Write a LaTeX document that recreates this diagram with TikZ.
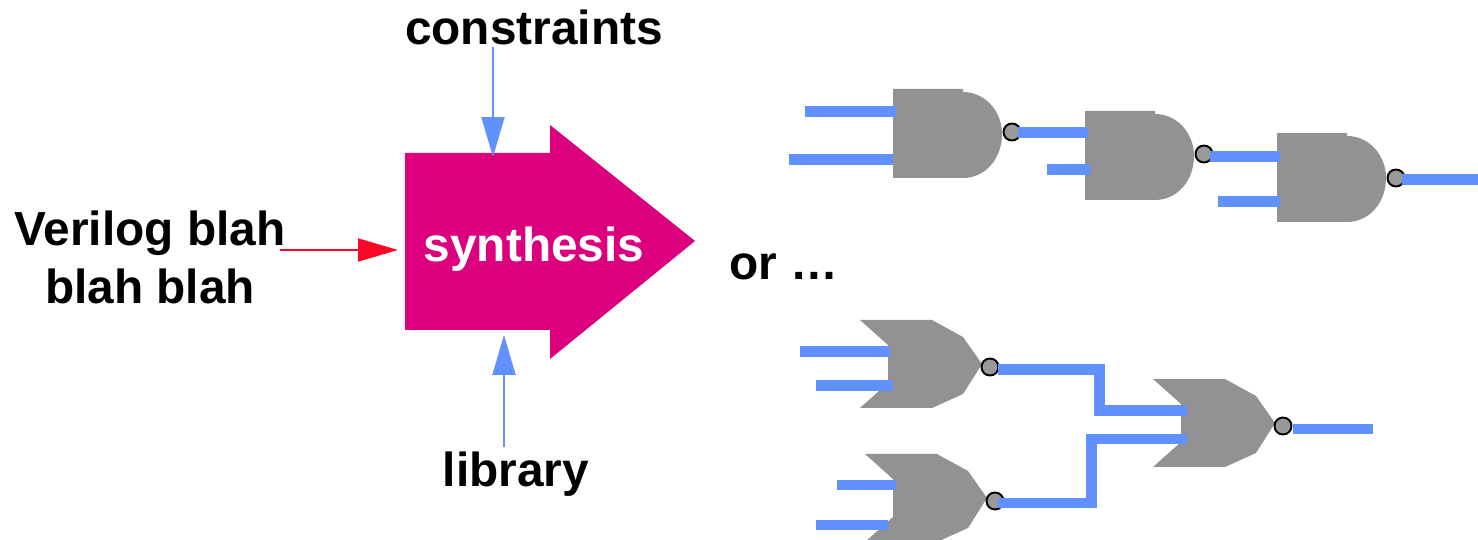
\documentclass[tikz,border=0pt]{standalone}
\usepackage{fontspec}
\setmainfont{Liberation Sans}
\usetikzlibrary{arrows.meta}
\definecolor{wireblue}{RGB}{97,144,255}
\definecolor{gategray}{RGB}{146,146,146}
\definecolor{bubblegray}{RGB}{153,153,153}
\definecolor{synthpink}{RGB}{220,0,127}
\definecolor{inred}{RGB}{255,8,40}
\tikzset{
  label/.style={font=\fontsize{27.2}{33}\selectfont\bfseries,align=center,inner sep=0pt},
  wire/.style={draw=wireblue,line width=0.22cm,line join=miter},
  feed/.style={line width=1.1pt,-{Triangle[length=0.8cm,width=0.46cm]}}
}
\begin{document}
\begin{tikzpicture}[x=0.02cm,y=-0.02cm]
\useasboundingbox (0,0) rectangle (1478,540);

% velika puscica
\fill[synthpink] (405,153)--(550,153)--(550,125)--(695,241)--(550,359)--(550,330)--(405,330)--cycle;

\node[label] (constraints) at (534,27){constraints};
\node[label] (verilog) at (150,257){Verilog blah\\blah blah};
\node[label] (library) at (516,474){library};
\node[label,text=white] (synthesis) at (534,249){synthesis};
\node[label] (orword) at (784,267){or \dots};

\coordinate (consout) at (493,47);
\coordinate (consin) at (493,157);
\coordinate (libout) at (504,447);
\coordinate (libin) at (504,335);
\coordinate (verout) at (280,250);
\coordinate (verin) at (398,250);

\draw[feed,wireblue] (consout)--(consin);
\draw[feed,wireblue] (libout)--(libin);
\draw[feed,inred] (verout)--(verin);

% vrata
\foreach \x/\y in {893/89,1085/111,1277/133}
\fill[gategray] (\x,\y)--++(70,0)--++(0,3)
  .. controls +(22,0) and +(0,-23) .. ++(39,42)
  .. controls +(0,25) and +(22,0) .. ++(-39,44)
  --++(-70,0)--cycle;

\foreach \x/\y in {860/320,865/454,1153/379}
\fill[gategray] (\x,\y)--++(72,0)--++(31,17)--++(19,27)--++(-19,30)--++(-31,14)--++(-72,0)
  --++(28,-25)--++(0,-38)--cycle;

% izhodi
\coordinate (a1) at (1012,132);
\coordinate (a2) at (1204,154);
\coordinate (a3) at (1396,178);
\coordinate (o1) at (990,367);
\coordinate (o2) at (995,501);
\coordinate (o3) at (1283,426);

\foreach \point in {a1,a2,a3,o1,o2,o3}
\draw[fill=bubblegray,line width=1.1pt] (\point) circle (0.17cm);

% pomozna vozlisca
\coordinate (a1u) at (805,112);
\coordinate (a1ui) at (896,112);
\coordinate (a1d) at (789,160);
\coordinate (a1di) at (893,160);
\coordinate (a1s) at (1018,133);
\coordinate (a2u) at (1088,133);
\coordinate (a2d) at (1047,170);
\coordinate (a2di) at (1090,170);
\coordinate (a2s) at (1210,157);
\coordinate (a3u) at (1280,157);
\coordinate (a3d) at (1218,202);
\coordinate (a3di) at (1280,202);
\coordinate (a3s) at (1402,180);
\coordinate (a3e) at (1478,180);

\coordinate (o1u) at (800,352);
\coordinate (o1ui) at (890,352);
\coordinate (o1d) at (816,386);
\coordinate (o1di) at (893,386);
\coordinate (o2u) at (837,485);
\coordinate (o2ui) at (896,485);
\coordinate (o2d) at (816,525);
\coordinate (o2di) at (888,525);
\coordinate (o1s) at (998,370);
\coordinate (o1k) at (1099,370);
\coordinate (o1m) at (1099,411);
\coordinate (o3u) at (1187,411);
\coordinate (o2s) at (998,503);
\coordinate (o2k) at (1091,503);
\coordinate (o2m) at (1091,439);
\coordinate (o3d) at (1187,439);
\coordinate (o3s) at (1293,429);
\coordinate (o3e) at (1373,429);

\draw[wire] (a1u)--(a1ui);
\draw[wire] (a1d)--(a1di);
\draw[wire] (a1s)--(a2u);
\draw[wire] (a2d)--(a2di);
\draw[wire] (a2s)--(a3u);
\draw[wire] (a3d)--(a3di);
\draw[wire] (a3s)--(a3e);
\draw[wire] (o1u)--(o1ui);
\draw[wire] (o1d)--(o1di);
\draw[wire] (o2u)--(o2ui);
\draw[wire] (o2d)--(o2di);
\draw[wire] (o1s)--(o1k)--(o1m)--(o3u);
\draw[wire] (o2s)--(o2k)--(o2m)--(o3d);
\draw[wire] (o3s)--(o3e);
\end{tikzpicture}
\end{document}
